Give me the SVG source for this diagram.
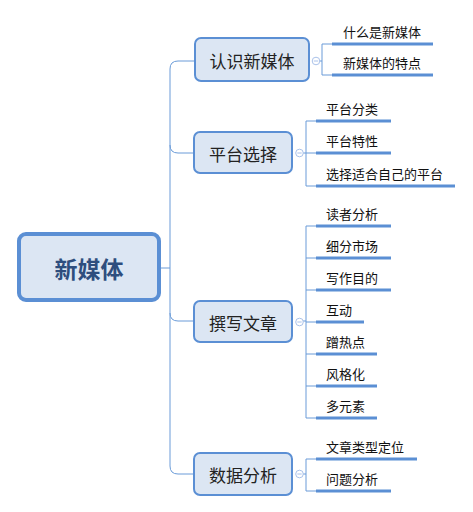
<svg xmlns="http://www.w3.org/2000/svg" width="473" height="512" viewBox="0 0 473 512">
<style>
.box{fill:#dce6f3;stroke:#5b8fd4;stroke-width:2}
.bt{font-family:"Noto Sans CJK SC",sans-serif;font-size:17px;fill:#222;text-anchor:middle;dominant-baseline:central}
.ct{font-family:"Noto Sans CJK SC",sans-serif;font-size:13px;fill:#111;dominant-baseline:central}
.ul{stroke:#5b8fd4;stroke-width:3;fill:none}
.cn{stroke:#6a9bd8;stroke-width:1;fill:none}
.tog{fill:#fff;stroke:#aac2ea;stroke-width:1}
.tm{stroke:#aac2ea;stroke-width:1}
</style>
<g id="connectors">
<path class="cn" d="M161,268 H170"/>
<path class="cn" d="M170,69 V466"/>
<path class="cn" d="M195,61 H178 Q170,61 170,69"/>
<path class="cn" d="M170,145 Q170,153 178,153 H194"/>
<path class="cn" d="M170,313 Q170,321 178,321 H194"/>
<path class="cn" d="M170,466 Q170,474 178,474 H194"/>
<path class="cn" d="M319.5,61 H322 M332,44 H322 V75 H332"/>
<path class="cn" d="M303,153 H306 M316,121 H306 V186 H316 M306,153 H316"/>
<path class="cn" d="M303,321 H306 M316,226 H306 V418 H316 M306,258 H316 M306,290 H316 M306,322 H316 M306,354 H316 M306,386 H316"/>
<path class="cn" d="M303,474 H306 M316,459 H306 V491 H316"/>
</g>
<g id="root">
<rect x="19" y="234" width="140" height="66" rx="7" fill="#dce6f3" stroke="#5b8fd4" stroke-width="4"/>
<text x="89" y="268" font-family="Noto Sans CJK SC,sans-serif" font-size="23" font-weight="bold" fill="#2e4e7e" text-anchor="middle" dominant-baseline="central">新媒体</text>
</g>
<g id="n1">
<rect class="box" x="195" y="38" width="114" height="43" rx="6"/>
<text class="bt" x="252" y="60">认识新媒体</text>
<circle class="tog" cx="316" cy="61" r="3.8"/><path class="tm" d="M313.8,61 H318.2"/>
</g>
<g id="n1a"><text class="ct" x="343" y="31">什么是新媒体</text><path class="ul" d="M332,44 H433"/></g>
<g id="n1b"><text class="ct" x="343" y="62">新媒体的特点</text><path class="ul" d="M332,75 H433"/></g>
<g id="n2">
<rect class="box" x="194" y="132" width="98" height="41" rx="6"/>
<text class="bt" x="243" y="153">平台选择</text>
<circle class="tog" cx="299.5" cy="153" r="3.8"/><path class="tm" d="M297.3,153 H301.7"/>
</g>
<g id="n2a"><text class="ct" x="326" y="108">平台分类</text><path class="ul" d="M316,121 H391"/></g>
<g id="n2b"><text class="ct" x="326" y="140">平台特性</text><path class="ul" d="M316,153 H391"/></g>
<g id="n2c"><text class="ct" x="326" y="173">选择适合自己的平台</text><path class="ul" d="M316,186 H455"/></g>
<g id="n3">
<rect class="box" x="194" y="301" width="98" height="41" rx="6"/>
<text class="bt" x="243" y="322">撰写文章</text>
<circle class="tog" cx="299.5" cy="322" r="3.8"/><path class="tm" d="M297.3,322 H301.7"/>
</g>
<g id="n3a"><text class="ct" x="326" y="213">读者分析</text><path class="ul" d="M316,226 H391"/></g>
<g id="n3b"><text class="ct" x="326" y="245">细分市场</text><path class="ul" d="M316,258 H391"/></g>
<g id="n3c"><text class="ct" x="326" y="277">写作目的</text><path class="ul" d="M316,290 H391"/></g>
<g id="n3d"><text class="ct" x="326" y="309">互动</text><path class="ul" d="M316,322 H364"/></g>
<g id="n3e"><text class="ct" x="326" y="341">蹭热点</text><path class="ul" d="M316,354 H377"/></g>
<g id="n3f"><text class="ct" x="326" y="373">风格化</text><path class="ul" d="M316,386 H377"/></g>
<g id="n3g"><text class="ct" x="326" y="405">多元素</text><path class="ul" d="M316,418 H377"/></g>
<g id="n4">
<rect class="box" x="194" y="453" width="98" height="42" rx="6"/>
<text class="bt" x="243" y="474">数据分析</text>
<circle class="tog" cx="299.5" cy="474" r="3.8"/><path class="tm" d="M297.3,474 H301.7"/>
</g>
<g id="n4a"><text class="ct" x="326" y="446">文章类型定位</text><path class="ul" d="M316,459 H417"/></g>
<g id="n4b"><text class="ct" x="326" y="478">问题分析</text><path class="ul" d="M316,491 H391"/></g>
</svg>
